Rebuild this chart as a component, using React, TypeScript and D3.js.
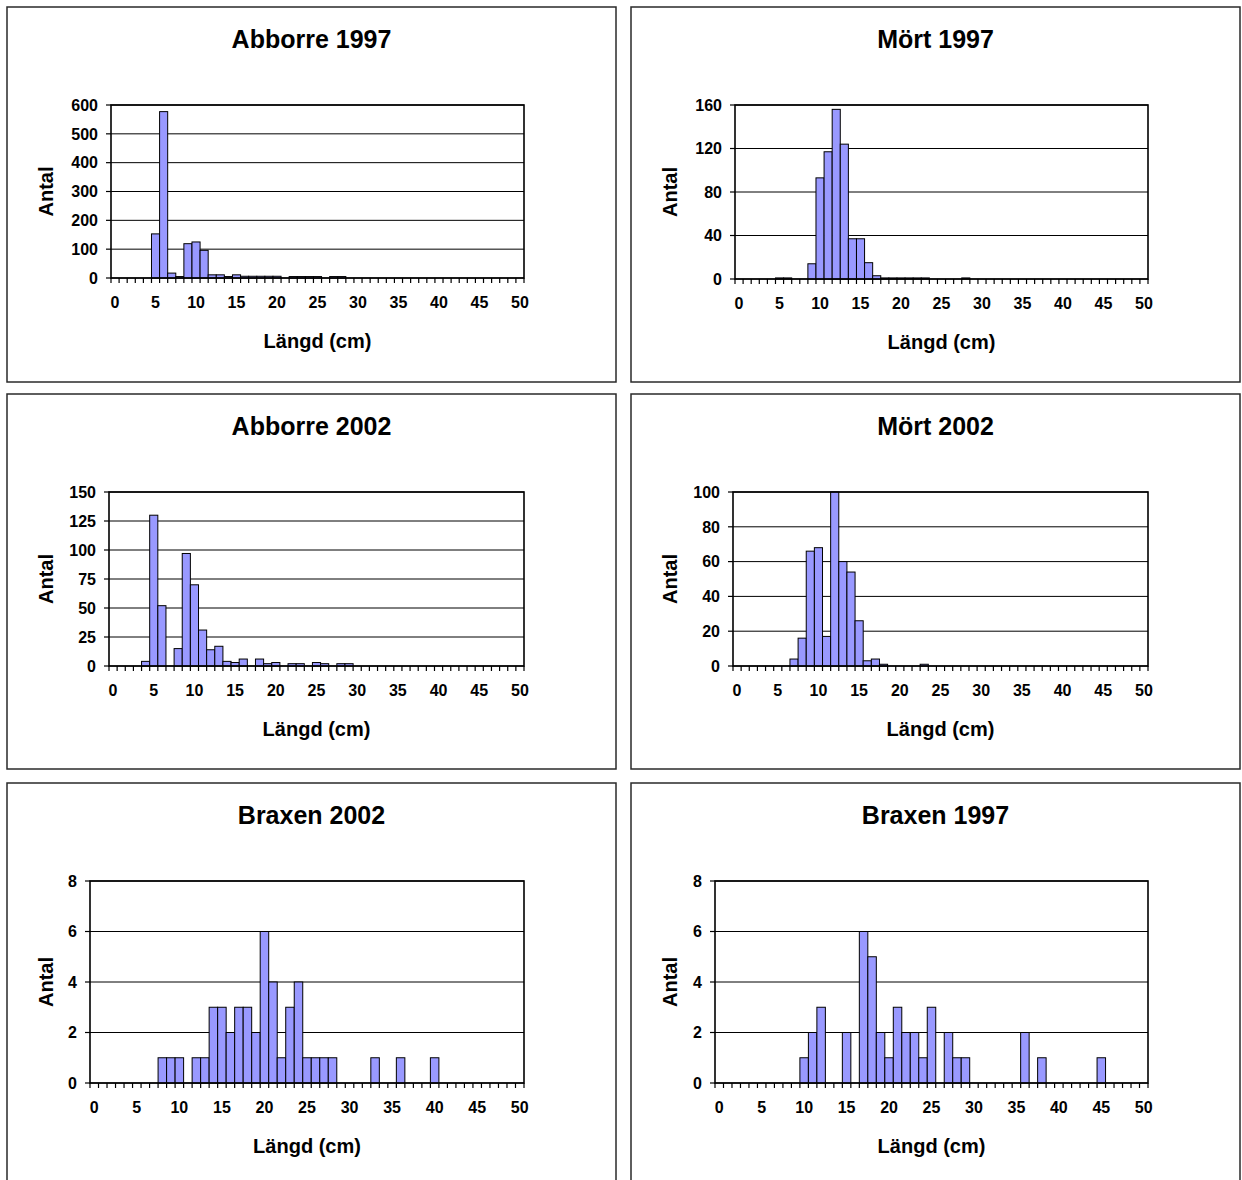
import React from 'react';
import * as d3 from 'd3';

// length classes (cm), one bar per class
const lengths = [
  0, 1, 2, 3, 4, 5, 6, 7, 8, 9, 10, 11, 12, 13, 14, 15, 16, 17, 18, 19, 20,
  21, 22, 23, 24, 25, 26, 27, 28, 29, 30, 31, 32, 33, 34, 35, 36, 37, 38, 39, 40,
  41, 42, 43, 44, 45, 46, 47, 48, 49, 50,
];
const xTickLabels = [0, 5, 10, 15, 20, 25, 30, 35, 40, 45, 50];

// counts per length class
const abborre1997 = [
  0, 0, 0, 0, 0, 153, 577, 17, 5, 119, 125, 96, 11, 11, 5, 11, 6, 6, 6, 6, 6,
  0, 5, 5, 5, 5, 0, 5, 5, 0, 0, 0, 0, 0, 0, 0, 0, 0, 0, 0, 0,
  0, 0, 0, 0, 0, 0, 0, 0, 0, 0,
];
const mort1997 = [
  0, 0, 0, 0, 0, 1, 1, 0, 0, 14, 93, 117, 156, 124, 37, 37, 15, 3, 1, 1, 1,
  1, 1, 1, 0, 0, 0, 0, 1, 0, 0, 0, 0, 0, 0, 0, 0, 0, 0, 0, 0,
  0, 0, 0, 0, 0, 0, 0, 0, 0, 0,
];
const abborre2002 = [
  0, 0, 0, 0, 4, 130, 52, 0, 15, 97, 70, 31, 14, 17, 4, 3, 6, 0, 6, 2, 3,
  0, 2, 2, 0, 3, 2, 0, 2, 2, 0, 0, 0, 0, 0, 0, 0, 0, 0, 0, 0,
  0, 0, 0, 0, 0, 0, 0, 0, 0, 0,
];
const mort2002 = [
  0, 0, 0, 0, 0, 0, 0, 4, 16, 66, 68, 17, 100, 60, 54, 26, 3, 4, 1, 0, 0,
  0, 0, 1, 0, 0, 0, 0, 0, 0, 0, 0, 0, 0, 0, 0, 0, 0, 0, 0, 0,
  0, 0, 0, 0, 0, 0, 0, 0, 0, 0,
];
const braxen2002 = [
  0, 0, 0, 0, 0, 0, 0, 0, 1, 1, 1, 0, 1, 1, 3, 3, 2, 3, 3, 2, 6,
  4, 1, 3, 4, 1, 1, 1, 1, 0, 0, 0, 0, 1, 0, 0, 1, 0, 0, 0, 1,
  0, 0, 0, 0, 0, 0, 0, 0, 0, 0,
];
const braxen1997 = [
  0, 0, 0, 0, 0, 0, 0, 0, 0, 0, 1, 2, 3, 0, 0, 2, 0, 6, 5, 2, 1,
  3, 2, 2, 1, 3, 0, 2, 1, 1, 0, 0, 0, 0, 0, 0, 2, 0, 1, 0, 0,
  0, 0, 0, 0, 1, 0, 0, 0, 0, 0,
];

const ticksAbborre1997 = [0, 100, 200, 300, 400, 500, 600];
const ticksMort1997 = [0, 40, 80, 120, 160];
const ticksAbborre2002 = [0, 25, 50, 75, 100, 125, 150];
const ticksMort2002 = [0, 20, 40, 60, 80, 100];
const ticksBraxen = [0, 2, 4, 6, 8];

const FONT = "'Liberation Sans', Arial, sans-serif";

const panels = [
  { title: 'Abborre 1997', counts: abborre1997, ticks: ticksAbborre1997, x: 7, y: 7, h: 375, left: 104, plotH: 173 },
  { title: 'Mört 1997', counts: mort1997, ticks: ticksMort1997, x: 631, y: 7, h: 375, left: 104, plotH: 174 },
  { title: 'Abborre 2002', counts: abborre2002, ticks: ticksAbborre2002, x: 7, y: 394, h: 375, left: 102, plotH: 174 },
  { title: 'Mört 2002', counts: mort2002, ticks: ticksMort2002, x: 631, y: 394, h: 375, left: 102, plotH: 174 },
  { title: 'Braxen 2002', counts: braxen2002, ticks: ticksBraxen, x: 7, y: 783, h: 430, left: 83, plotH: 202 },
  { title: 'Braxen 1997', counts: braxen1997, ticks: ticksBraxen, x: 631, y: 783, h: 430, left: 84, plotH: 202 },
];

const Histogram = ({ p }) => {
  const panelW = 609;
  const top = 98;
  const right = 517;
  const bottom = top + p.plotH;

  const x = d3.scaleBand<number>().domain(lengths).range([p.left, right]).padding(0);
  const y = d3.scaleLinear()
    .domain([0, d3.max(p.ticks) as number])
    .range([bottom, top]);

  const bounds = lengths.map(l => x(l) as number).concat([right]);

  return (
    <g transform={`translate(${p.x},${p.y})`}>
      <rect x={0} y={0} width={panelW} height={p.h} fill="white" stroke="#2a2a2a" strokeWidth={1.5} />
      <text x={panelW / 2} y={41} textAnchor="middle" fontFamily={FONT} fontWeight="bold" fontSize={25}>
        {p.title}
      </text>

      {/* gridlines */}
      {p.ticks.map(t => (
        <line key={'g' + t} x1={p.left} x2={right} y1={y(t)} y2={y(t)} stroke="black" strokeWidth={1} />
      ))}

      {/* bars */}
      {lengths.map((l, i) =>
        p.counts[i] > 0 ? (
          <rect
            key={'b' + l}
            x={x(l)}
            y={y(p.counts[i])}
            width={x.bandwidth()}
            height={bottom - y(p.counts[i])}
            fill="#9999FF"
            stroke="black"
            strokeWidth={1}
          />
        ) : null
      )}

      {/* plot frame */}
      <rect x={p.left} y={top} width={right - p.left} height={bottom - top} fill="none" stroke="black" strokeWidth={1.6} />

      {/* y axis ticks + labels */}
      {p.ticks.map(t => (
        <g key={'y' + t}>
          <line x1={p.left - 5} x2={p.left} y1={y(t)} y2={y(t)} stroke="black" strokeWidth={1.2} />
          <text x={p.left - 13} y={y(t)} dy="0.36em" textAnchor="end" fontFamily={FONT} fontWeight="bold" fontSize={16}>
            {t}
          </text>
        </g>
      ))}

      {/* x axis ticks between categories */}
      {bounds.map((b, i) => (
        <line key={'xt' + i} x1={b} x2={b} y1={bottom} y2={bottom + 5} stroke="black" strokeWidth={1.2} />
      ))}
      {xTickLabels.map(l => (
        <text
          key={'xl' + l}
          x={(x(l) as number) + x.bandwidth() / 2}
          y={bottom + 30}
          textAnchor="middle"
          fontFamily={FONT}
          fontWeight="bold"
          fontSize={16}
        >
          {l}
        </text>
      ))}

      <text
        transform={`translate(46,${(top + bottom) / 2}) rotate(-90)`}
        textAnchor="middle"
        fontFamily={FONT}
        fontWeight="bold"
        fontSize={20}
      >
        Antal
      </text>
      <text x={(p.left + right) / 2} y={bottom + 70} textAnchor="middle" fontFamily={FONT} fontWeight="bold" fontSize={20}>
        Längd (cm)
      </text>
    </g>
  );
};

export default function App() {
  return (
    <svg
      width={1242}
      height={1180}
      style={{ position: 'absolute', left: 0, top: 0, background: 'white' }}
    >
      {panels.map(p => (
        <Histogram key={p.title} p={p} />
      ))}
    </svg>
  );
}
